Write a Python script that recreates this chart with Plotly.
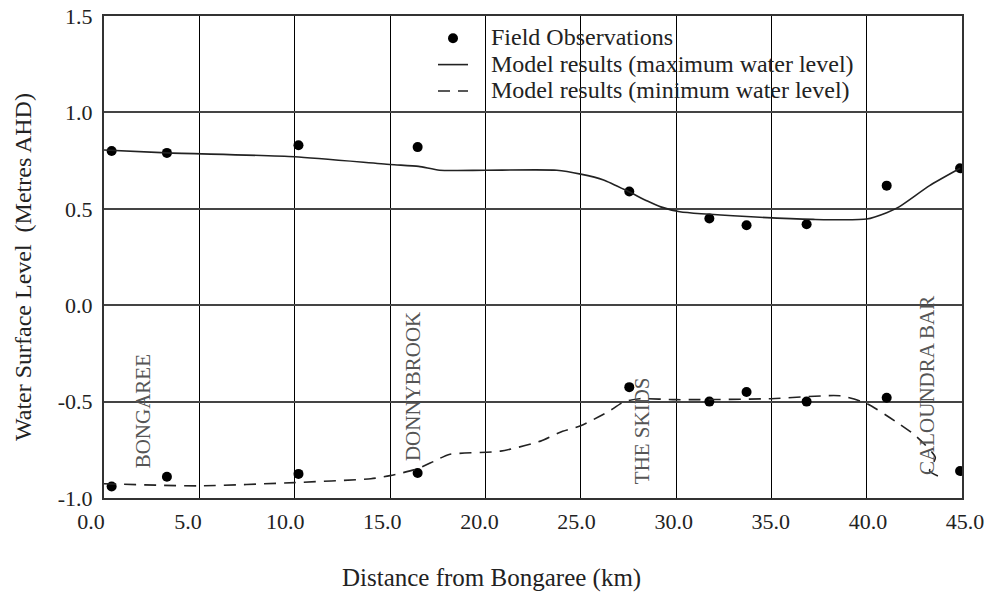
import plotly.graph_objects as go

# ---- data ----
stations_km = [0.4, 3.3, 10.2, 16.45, 27.55, 31.75, 33.7, 36.85, 41.05, 44.9]
obs_high = [0.80, 0.79, 0.83, 0.82, 0.59, 0.45, 0.415, 0.42, 0.62, 0.71]
obs_low = [-0.94, -0.89, -0.875, -0.87, -0.425, -0.50, -0.45, -0.50, -0.48, -0.86]

max_x = [0, 3.3, 10, 15, 16.5, 17.6, 20, 23.75, 25, 26.2, 27.5, 28.5, 29.2, 30.2,
         33.7, 37.2, 40, 41.05, 41.7, 43.3, 44.9]
max_y = [0.805, 0.79, 0.77, 0.73, 0.72, 0.70, 0.70, 0.70, 0.68, 0.65, 0.59, 0.54, 0.51, 0.485,
         0.46, 0.445, 0.447, 0.48, 0.51, 0.62, 0.71]

min_x = [0, 5, 10, 14, 15, 16.4, 17.3, 18.1, 20.8, 22.9, 23.9, 25, 26.4, 27.3, 28.1,
         30, 35, 38.6, 40, 41.7, 42.6, 43.6, 43.3, 44.1]
min_y = [-0.926, -0.937, -0.92, -0.90, -0.884, -0.85, -0.81, -0.774, -0.757, -0.705, -0.66,
         -0.625, -0.555, -0.50, -0.485, -0.49, -0.485, -0.47, -0.51, -0.615, -0.68, -0.79,
         -0.86, -0.90]

x_ticks = [0, 5, 10, 15, 20, 25, 30, 35, 40, 45]
x_tick_text = ["0.0", "5.0", "10.0", "15.0", "20.0", "25.0", "30.0", "35.0", "40.0", "45.0"]
y_ticks = [-1.0, -0.5, 0.0, 0.5, 1.0, 1.5]
y_tick_text = ["-1.0", "-0.5", "0.0", "0.5", "1.0", "1.5"]

sites = ["BONGAREE", "DONNYBROOK", "THE SKIDS", "CALOUNDRA BAR"]
site_x = [2.05, 16.2, 28.2, 43.2]
site_y = [-0.55, -0.42, -0.65, -0.415]

legend_names = ["Field Observations",
                "Model results (maximum water level)",
                "Model results (minimum water level)"]

FONT = "Liberation Serif, Times New Roman, serif"
W, H = 992, 592
ML, MR, MT, MB = 80, 18, 16, 94
PW = W - ML - MR
PH = H - MT - MB


def px_to_paper_x(px):
    return (px - ML) / PW


def px_to_paper_y(py):
    return (H - MB - py) / PH


def lname(s):
    return "<span style='font-size:24px'>\u00a0\u00a0\u00a0" + s + "</span>"


fig = go.Figure()

fig.add_trace(go.Scatter(
    x=stations_km + stations_km, y=obs_high + obs_low, mode="markers",
    marker=dict(color="black", size=10), name=lname(legend_names[0])))
fig.add_trace(go.Scatter(
    x=max_x, y=max_y, mode="lines", line=dict(color="#222", width=1.6, shape="spline", smoothing=0.6),
    name=lname(legend_names[1])))
fig.add_trace(go.Scatter(
    x=min_x, y=min_y, mode="lines",
    line=dict(color="#222", width=1.6, dash="12px,8px", shape="spline", smoothing=0.6),
    name=lname(legend_names[2])))
# empty trace so the label-only axis (xaxis2) is drawn
fig.add_trace(go.Scatter(x=[], y=[], xaxis="x2", yaxis="y2", showlegend=False, hoverinfo="skip"))

annotations = []
for s, sx, sy in zip(sites, site_x, site_y):
    annotations.append(dict(x=sx, y=sy, xref="x", yref="y", text=s, textangle=-90,
                            xanchor="center", yanchor="middle",
                            showarrow=False, font=dict(family=FONT, size=21, color="#555")))
annotations.append(dict(x=px_to_paper_x(491), y=px_to_paper_y(578), xref="paper", yref="paper",
                        xanchor="center", yanchor="middle",
                        text="Distance from Bongaree (km)", showarrow=False,
                        font=dict(family=FONT, size=25, color="#222")))
annotations.append(dict(x=px_to_paper_x(23), y=px_to_paper_y(267), xref="paper", yref="paper",
                        xanchor="center", yanchor="middle",
                        text="Water Surface Level\u00a0 (Metres AHD)", textangle=-90, showarrow=False,
                        font=dict(family=FONT, size=24, color="#222")))

fig.update_layout(
    template="none",
    width=W, height=H,
    margin=dict(l=ML, r=MR, t=MT, b=MB, autoexpand=False),
    paper_bgcolor="white", plot_bgcolor="rgba(0,0,0,0)",
    font=dict(family=FONT, size=22, color="#222"),
    showlegend=True,
    legend=dict(x=px_to_paper_x(433), y=px_to_paper_y(20), xanchor="left", yanchor="top",
                bgcolor="rgba(0,0,0,0)", borderwidth=0, font=dict(family=FONT, size=18, color="#222")),
    xaxis=dict(domain=[px_to_paper_x(104), px_to_paper_x(962)], range=[0, 45], automargin=False,
               tickvals=x_ticks, showticklabels=False, ticks="",
               showgrid=True, gridcolor="black", gridwidth=1.3,
               zeroline=False, showline=True, linecolor="#333", linewidth=2, mirror=True),
    xaxis2=dict(domain=[px_to_paper_x(91), px_to_paper_x(965)], range=[0, 45], anchor="y2",
                automargin=False, side="bottom",
                tickvals=x_ticks, ticktext=x_tick_text, showgrid=False,
                zeroline=False, showline=False, ticks="", ticklabelstandoff=8,
                tickfont=dict(family=FONT, size=22, color="#222")),
    yaxis=dict(range=[-1.0, 1.5], tickvals=y_ticks, ticktext=y_tick_text, automargin=False,
               showgrid=True, gridcolor="#444", gridwidth=1.6, zeroline=False,
               showline=True, linecolor="#333", linewidth=2, mirror=True,
               ticks="", ticklabelstandoff=5,
               tickfont=dict(family=FONT, size=22, color="#222")),
    yaxis2=dict(range=[-1.0, 1.5], overlaying="y", anchor="x2", automargin=False,
                showgrid=False, zeroline=False, showline=False, showticklabels=False, ticks=""),
    annotations=annotations,
)

fig.write_html("out.html")
